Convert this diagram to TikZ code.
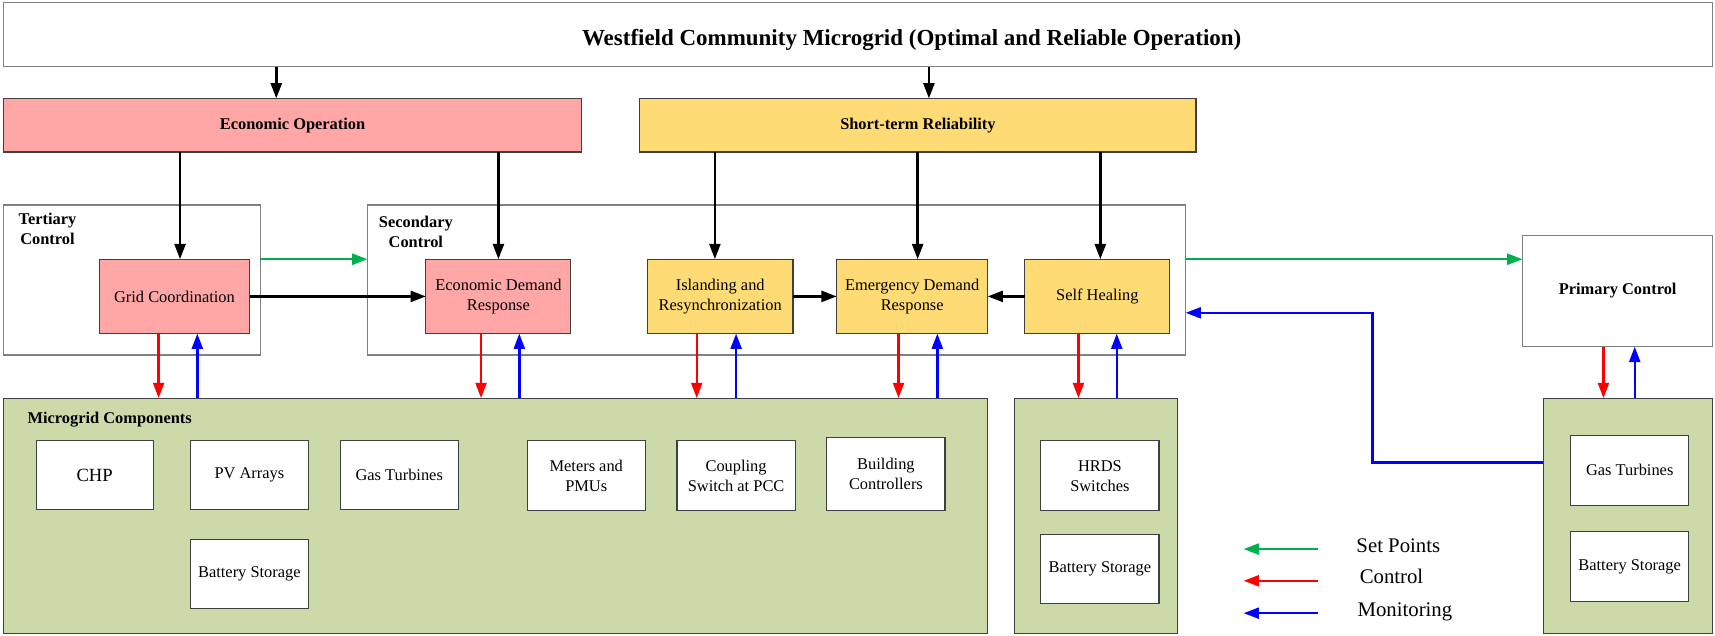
\documentclass[tikz,border=0pt]{standalone}
\usepackage{fontspec}
\setmainfont{Liberation Serif}
\usetikzlibrary{arrows.meta}
\definecolor{pinkfill}{RGB}{255,166,166}
\definecolor{yellowfill}{RGB}{255,219,118}
\definecolor{greenfill}{RGB}{204,218,170}
\definecolor{framegray}{RGB}{128,128,128}
\definecolor{edgegray}{RGB}{64,64,64}
\definecolor{setgreen}{RGB}{0,176,80}
\definecolor{ctlred}{RGB}{255,0,0}
\definecolor{monblue}{RGB}{0,0,255}

\begin{document}
\begin{tikzpicture}[x=1pt,y=-1pt,
  base/.style={rectangle, inner sep=0pt, outer sep=0pt, align=center,
    font=\fontsize{15}{18.5}\selectfont},
  sz/.style 2 args={minimum width=#1pt, minimum height=#2pt},
  frame/.style={base, draw=framegray, line width=1.2pt, fill=white},
  pinkbox/.style={base, draw=edgegray, line width=1pt, fill=pinkfill},
  yellowbox/.style={base, draw=edgegray, line width=1pt, fill=yellowfill},
  greenbox/.style={base, draw=black!75, line width=1pt, fill=greenfill},
  whitebox/.style={base, draw=edgegray, line width=1pt, fill=white},
  headfont/.style={font=\bfseries\fontsize{15}{18.3}\selectfont},
  label/.style={inner sep=0pt, align=center, headfont},
  legtext/.style={inner sep=0pt, anchor=mid west, font=\fontsize{19}{22}\selectfont},
  tip/.style={-{Triangle[length=14pt,width=10pt]}},
  blk/.style={tip, draw=black, line width=2.3pt},
  setp/.style={tip, draw=setgreen, line width=2.2pt},
  ctl/.style={tip, draw=ctlred, line width=2.2pt},
  mon/.style={tip, draw=monblue, line width=2.2pt}
]
\useasboundingbox (0,0) rectangle (1568,581);

% ---------- top level ----------
\node[frame, sz={1563}{58.5}] (title) at (784.5,31.75) {};
\node[inner sep=0pt, font=\bfseries\fontsize{21}{24}\selectfont] (titletext) at (833.5,36.5)
  {Westfield Community Microgrid (Optimal and Reliable Operation)};

\node[pinkbox, sz={529}{49}, headfont] (eo) at (267.5,114.5) {Economic Operation};
\node[yellowbox, sz={508.5}{49}, headfont] (st) at (839.25,114.5) {Short-term Reliability};

% ---------- control layers ----------
\node[frame, sz={235}{137}] (tert) at (120.5,256) {};
\node[label] (tertlabel) at (43.4,209.7) {Tertiary\\Control};
\node[frame, sz={748}{137}] (sec) at (710,256) {};
\node[label] (seclabel) at (380.2,212) {Secondary\\Control};
\node[frame, sz={174}{102}, headfont] (prim) at (1479,266) {Primary Control};

\node[pinkbox, sz={137.5}{68}] (gc) at (159.5,271) {Grid Coordination};
\node[pinkbox, sz={132.6}{68}] (edr) at (455.7,271) {Economic Demand\\Response};
\node[yellowbox, sz={133}{68}] (isl) at (658.5,271) {Islanding and\\Resynchronization};
\node[yellowbox, sz={138}{68}] (emg) at (834,271) {Emergency Demand\\Response};
\node[yellowbox, sz={132.7}{68}] (sh) at (1003.3,271) {Self Healing};

% ---------- component groups ----------
\node[greenbox, sz={900}{215}] (mc) at (453,471.5) {};
\node[label, anchor=west] (mclabel) at (25,383.4) {Microgrid Components};
\node[greenbox, sz={149.4}{215}] (hb) at (1002,471.5) {};
\node[greenbox, sz={155}{215}] (pb) at (1488.5,471.5) {};

\node[whitebox, sz={107}{63}, font=\fontsize{17}{20}\selectfont] (chp) at (86.5,434.5) {CHP};
\node[whitebox, sz={108}{63}] (pv) at (228,434.5) {PV Arrays};
\node[whitebox, sz={108}{63}] (gas) at (365,434.5) {Gas Turbines};
\node[whitebox, sz={108}{63.5}] (met) at (536,434.75) {Meters and\\PMUs};
\node[whitebox, sz={108}{63.5}] (cpl) at (673,434.75) {Coupling\\Switch at PCC};
\node[whitebox, sz={108}{66.5}] (bld) at (810,433.25) {Building\\Controllers};
\node[whitebox, sz={108}{63.4}] (bat1) at (228,525) {Battery Storage};

\node[whitebox, sz={108}{64}] (hrds) at (1005.6,435) {HRDS\\Switches};
\node[whitebox, sz={108}{63.5}] (bat2) at (1005.6,520.25) {Battery Storage};

\node[whitebox, sz={108}{64}] (gt3) at (1490,430) {Gas Turbines};
\node[whitebox, sz={108}{64}] (bat3) at (1490,518) {Battery Storage};

% ---------- connector guide positions ----------
\coordinate (xeo) at (252.6,0);
\coordinate (xst) at (849.3,0);
\coordinate (xgc) at (164.6,0);
\coordinate (xisl) at (653.6,0);
\coordinate (xemg) at (839,0);
\coordinate (xsh) at (1006,0);
\coordinate (ysp) at (0,237);
\coordinate (cgc) at (145,0);    \coordinate (mgc) at (180.4,0);
\coordinate (cedr) at (439.8,0); \coordinate (medr) at (474.8,0);
\coordinate (cisl) at (637,0);   \coordinate (misl) at (673,0);
\coordinate (cemg) at (821.5,0); \coordinate (memg) at (857,0);
\coordinate (csh) at (986,0);    \coordinate (msh) at (1021,0);
\coordinate (cpr) at (1466,0);   \coordinate (mpr) at (1494.6,0);
\coordinate (ymon) at (0,422.7);
\coordinate (bend) at (1255,286);

% ---------- black command arrows ----------
\draw[blk] (xeo |- title.south) -- (xeo |- eo.north);
\draw[blk] (xst |- title.south) -- (xst |- st.north);
\draw[blk] (xgc |- eo.south) -- (xgc |- gc.north);
\draw[blk] (edr.north |- eo.south) -- (edr.north);
\draw[blk] (xisl |- st.south) -- (xisl |- isl.north);
\draw[blk] (xemg |- st.south) -- (xemg |- emg.north);
\draw[blk] (xsh |- st.south) -- (xsh |- sh.north);
\draw[blk] (gc.east) -- (edr.west);
\draw[blk] (isl.east) -- (emg.west);
\draw[blk] (sh.west) -- (emg.east);

% ---------- set points ----------
\draw[setp] (ysp -| tert.east) -- (ysp -| sec.west);
\draw[setp] (ysp -| sec.east) -- (ysp -| prim.west);

% ---------- control and monitoring ----------
\draw[ctl] (cgc |- gc.south) -- (cgc |- mc.north);
\draw[mon] (mgc |- mc.north) -- (mgc |- gc.south);
\draw[ctl] (cedr |- edr.south) -- (cedr |- mc.north);
\draw[mon] (medr |- mc.north) -- (medr |- edr.south);
\draw[ctl] (cisl |- isl.south) -- (cisl |- mc.north);
\draw[mon] (misl |- mc.north) -- (misl |- isl.south);
\draw[ctl] (cemg |- emg.south) -- (cemg |- mc.north);
\draw[mon] (memg |- mc.north) -- (memg |- emg.south);
\draw[ctl] (csh |- sh.south) -- (csh |- hb.north);
\draw[mon] (msh |- hb.north) -- (msh |- sh.south);
\draw[ctl] (cpr |- prim.south) -- (cpr |- pb.north);
\draw[mon] (mpr |- pb.north) -- (mpr |- prim.south);
\draw[mon] (ymon -| pb.west) -| (bend) -- (bend -| sec.east);

% ---------- legend ----------
\coordinate (lg1a) at (1205,502);   \coordinate (lg1b) at (1137,502);
\coordinate (lg2a) at (1205,531);   \coordinate (lg2b) at (1137,531);
\coordinate (lg3a) at (1205,560.6); \coordinate (lg3b) at (1137,560.6);
\draw[setp] (lg1a) -- (lg1b);
\draw[ctl] (lg2a) -- (lg2b);
\draw[mon] (lg3a) -- (lg3b);
\node[legtext] (lgt1) at (1240,503) {Set Points};
\node[legtext] (lgt2) at (1243,531.5) {Control};
\node[legtext] (lgt3) at (1241,561.5) {Monitoring};
\end{tikzpicture}
\end{document}
